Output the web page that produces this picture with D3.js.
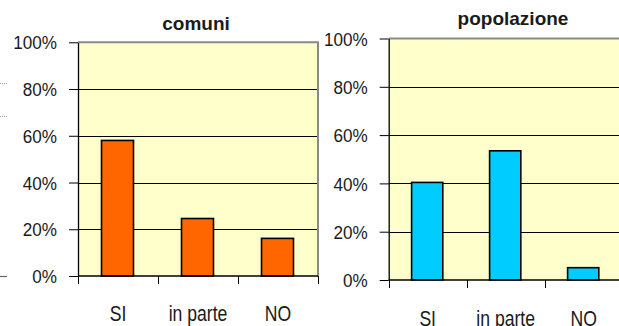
<!DOCTYPE html>
<html>
<head>
<meta charset="utf-8">
<script src="https://cdn.jsdelivr.net/npm/d3@7"></script>
<style>
  html, body { margin: 0; padding: 0; background: #ffffff; }
  svg { display: block; }
  text { font-family: "Liberation Sans", Arial, sans-serif; fill: #1a1a1a; }
</style>
</head>
<body>
<script>
// ---- data ----
const categories = ["SI", "in parte", "NO"];
const comuniValues = [58, 24.6, 16.1];
const popolazioneValues = [40.4, 53.5, 5.1];
const yTicks = [0, 20, 40, 60, 80, 100];
const titles = ["comuni", "popolazione"];

// ---- layout ----
const W = 619, H = 326;
const svg = d3.select("body").append("svg").attr("width", W).attr("height", H);

const panels = [
  { title: titles[0], values: comuniValues, color: "#FF6600",
    x0: 78, x1: 318, y0: 42.3, y1: 276, titleX: 196, titleY: 29.5, catY: 321 },
  { title: titles[1], values: popolazioneValues, color: "#00CCFF",
    x0: 388.7, x1: 622.7, y0: 38.5, y1: 280, titleX: 513, titleY: 25.2, catY: 325.5 }
];

// stray fragments at the far left edge
svg.append("line").attr("x1", 0).attr("x2", 7).attr("y1", 83.5).attr("y2", 83.5)
  .attr("stroke", "#999").attr("stroke-width", 1).attr("stroke-dasharray", "1,1");
svg.append("line").attr("x1", 0).attr("x2", 7).attr("y1", 116.5).attr("y2", 116.5)
  .attr("stroke", "#999").attr("stroke-width", 1).attr("stroke-dasharray", "1,1");
svg.append("line").attr("x1", 0).attr("x2", 7).attr("y1", 276.5).attr("y2", 276.5)
  .attr("stroke", "#666").attr("stroke-width", 1.2);

panels.forEach(p => {
  const g = svg.append("g");
  const x = d3.scaleBand().domain(categories).range([p.x0, p.x1])
    .paddingInner(0.6).paddingOuter(0.3);
  const y = d3.scaleLinear().domain([0, 100]).range([p.y1, p.y0]);

  // plot background
  g.append("rect").attr("x", p.x0).attr("y", p.y0)
    .attr("width", p.x1 - p.x0).attr("height", p.y1 - p.y0)
    .attr("fill", "#FFFFCC");

  // gridlines
  g.selectAll(".grid").data(yTicks.filter(t => t > 0 && t < 100)).join("line")
    .attr("x1", p.x0).attr("x2", p.x1)
    .attr("y1", d => Math.round(y(d)) + 0.5).attr("y2", d => Math.round(y(d)) + 0.5)
    .attr("stroke", "#000").attr("stroke-width", 1);

  // gray plot border (top and right)
  g.append("path")
    .attr("d", `M${p.x0},${p.y0}H${p.x1}V${p.y1}`)
    .attr("fill", "none").attr("stroke", "#8a8a8a").attr("stroke-width", 2);

  // bars
  g.selectAll(".bar").data(p.values).join("rect")
    .attr("x", (d, i) => x(categories[i]) - 0.5)
    .attr("y", d => y(d))
    .attr("width", x.bandwidth())
    .attr("height", d => p.y1 - y(d))
    .attr("fill", p.color)
    .attr("stroke", "#000").attr("stroke-width", 1.6);

  // y axis
  const yAxis = d3.axisLeft(y).tickValues(yTicks).tickFormat(d => d + "%")
    .tickSize(9).tickSizeOuter(0);
  const ya = g.append("g").attr("transform", `translate(${p.x0},0)`).call(yAxis);
  ya.select(".domain").attr("stroke", "#000").attr("stroke-width", 1.3);
  ya.selectAll(".tick line").attr("stroke", "#000").attr("stroke-width", 1);
  ya.selectAll(".tick text")
    .attr("font-size", 19).attr("fill", "#1a1a1a")
    .attr("font-family", "'Liberation Sans', Arial, sans-serif")
    .attr("x", -21 / 0.9).attr("dy", "0.35em")
    .attr("transform", "scale(0.9,1)");

  // x axis line and ticks at band boundaries
  g.append("line").attr("x1", p.x0).attr("x2", p.x1)
    .attr("y1", p.y1).attr("y2", p.y1)
    .attr("stroke", "#000").attr("stroke-width", 1.3);
  const bounds = d3.range(categories.length + 1).map(i => p.x0 + i * x.step());
  g.selectAll(".xtick").data(bounds).join("line")
    .attr("x1", d => Math.round(d) + 0.5).attr("x2", d => Math.round(d) + 0.5)
    .attr("y1", p.y1).attr("y2", p.y1 + 8)
    .attr("stroke", "#000").attr("stroke-width", 1);

  // category labels
  g.selectAll(".cat").data(categories).join("text")
    .attr("transform", d => `translate(${x(d) + x.bandwidth() / 2},${p.catY}) scale(0.8,1)`)
    .attr("text-anchor", "middle")
    .attr("font-size", 22)
    .text(d => d);

  // title
  g.append("text").attr("x", p.titleX).attr("y", p.titleY)
    .attr("text-anchor", "middle")
    .attr("font-size", 19).attr("font-weight", "bold")
    .text(p.title);
});
</script>
</body>
</html>
